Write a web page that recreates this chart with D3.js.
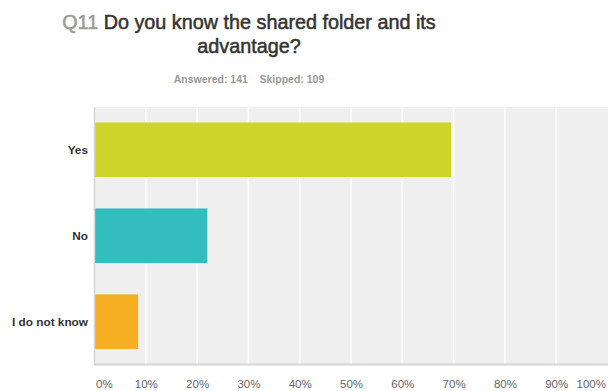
<!DOCTYPE html>
<html>
<head>
<meta charset="utf-8">
<script src="https://cdn.jsdelivr.net/npm/d3@7"></script>
<style>
  html, body { margin: 0; padding: 0; background: #fff; }
  svg { display: block; font-family: "Liberation Sans", Arial, sans-serif; }
</style>
</head>
<body>
<svg id="chart" width="608" height="391"></svg>
<script>
// Survey answers for Q11 (share of 141 respondents)
const categories = ["Yes", "No", "I do not know"];
const values = [69.50, 21.99, 8.51];
const colors = ["#cfd42a", "#33bdbf", "#f6ae22"];
const tickValues = [0, 10, 20, 30, 40, 50, 60, 70, 80, 90, 100];
const questionNumber = "Q11";
const titleLines = ["Do you know the shared folder and its", "advantage?"];
const answered = 141, skipped = 109;

const svg = d3.select("#chart");
const margin = { left: 94.5, right: 0.5, top: 107, bottom: 26.5 };
const W = 608, H = 391;
const centerX = 249;

// Title
const t1 = svg.append("text")
  .attr("x", centerX).attr("y", 29)
  .attr("text-anchor", "middle")
  .style("font-size", "19.8px").style("font-weight", "normal")
  .style("stroke-width", "0.5px");
t1.append("tspan").attr("fill", "#9a9a9a").attr("stroke", "#9a9a9a").text(questionNumber + " ");
t1.append("tspan").attr("fill", "#333").attr("stroke", "#333").text(titleLines[0]);
svg.append("text")
  .attr("x", centerX).attr("y", 53)
  .attr("text-anchor", "middle")
  .attr("fill", "#333").attr("stroke", "#333")
  .style("stroke-width", "0.5px")
  .style("font-size", "19.8px").style("font-weight", "normal")
  .text(titleLines[1]);

// Response counts
svg.append("text")
  .attr("x", centerX).attr("y", 83)
  .attr("text-anchor", "middle")
  .attr("fill", "#999")
  .style("font-size", "10.5px").style("font-weight", "bold")
  .attr("xml:space", "preserve")
  .text(`Answered: ${answered}    Skipped: ${skipped}`);

// Scales
const x = d3.scaleLinear().domain([0, 100]).range([margin.left, W - margin.right]);
const y = d3.scaleBand().domain(categories)
  .range([margin.top, H - margin.bottom])
  .paddingInner(0.365).paddingOuter(0.18);

// Plot background
svg.append("rect")
  .attr("x", x(0)).attr("y", margin.top)
  .attr("width", W - x(0)).attr("height", H - margin.bottom - margin.top)
  .attr("fill", "#efefef");

// Vertical gridlines
svg.append("g")
  .selectAll("line")
  .data(tickValues.filter(d => d > 0 && d < 100))
  .join("line")
  .attr("x1", d => x(d)).attr("x2", d => x(d))
  .attr("y1", margin.top).attr("y2", H - margin.bottom)
  .attr("stroke", "#fff").attr("stroke-width", 1.6);

// Bars
svg.append("g")
  .selectAll("rect")
  .data(categories)
  .join("rect")
  .attr("x", x(0))
  .attr("y", d => y(d))
  .attr("width", (d, i) => x(values[i]) - x(0))
  .attr("height", y.bandwidth())
  .attr("fill", (d, i) => colors[i]);

// Axis lines
svg.append("line")
  .attr("x1", x(0)).attr("x2", x(0))
  .attr("y1", margin.top).attr("y2", H - margin.bottom)
  .attr("stroke", "#d6d6d6").attr("stroke-width", 1.5);
svg.append("line")
  .attr("x1", x(0) - 0.75).attr("x2", W)
  .attr("y1", H - margin.bottom).attr("y2", H - margin.bottom)
  .attr("stroke", "#d6d6d6").attr("stroke-width", 1.8);

// Category axis
const yAxis = svg.append("g")
  .attr("transform", `translate(${x(0) - 6.5},0)`)
  .call(d3.axisLeft(y).tickSize(0).tickPadding(0));
yAxis.select(".domain").remove();
yAxis.selectAll("text")
  .attr("fill", "#333")
  .style("font-size", "11.8px").style("font-weight", "bold")
  .style("font-family", "Liberation Sans, Arial, sans-serif");

// Percent axis
const xAxis = svg.append("g")
  .attr("transform", `translate(0,${H - margin.bottom})`)
  .call(d3.axisBottom(x).tickValues(tickValues).tickSize(0).tickPadding(15)
    .tickFormat(d => d + "%"));
xAxis.select(".domain").remove();
xAxis.selectAll("text")
  .attr("fill", "#5f6670")
  .style("font-size", "11.5px")
  .style("font-family", "Liberation Sans, Arial, sans-serif")
  .attr("text-anchor", d => d === 0 ? "start" : d === 100 ? "end" : "middle")
  .attr("dx", d => d === 0 ? 1 : d === 100 ? -2 : 0);
</script>
</body>
</html>
